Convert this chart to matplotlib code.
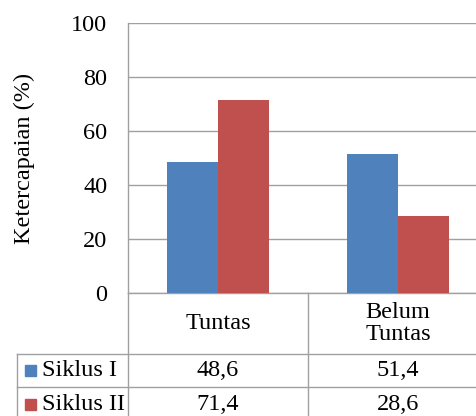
import matplotlib
matplotlib.use("Agg")
import matplotlib.pyplot as plt
from matplotlib.transforms import blended_transform_factory
from matplotlib.patches import Rectangle
import numpy as np

categories = ["Tuntas", "Belum\nTuntas"]
series_names = ["Siklus I", "Siklus II"]
siklus_1 = [48.6, 51.4]
siklus_2 = [71.4, 28.6]
value_labels = [["48,6", "51,4"], ["71,4", "28,6"]]
y_ticks = [0, 20, 40, 60, 80, 100]
colors = ["#4F81BD", "#C0504D"]
grid_color = "#A0A0A0"

plt.rcParams["font.family"] = ["Liberation Serif", "DejaVu Serif"]
fs = 17.5

W, H = 477, 416
fig = plt.figure(figsize=(W / 100, H / 100), dpi=100)

# plot area in pixels: left 128, category width 180 (runs past the right edge)
left_px, bottom_px, top_px, cat_px = 128, 293, 23, 180
ax = fig.add_axes([left_px / W, (H - bottom_px) / H,
                   2 * cat_px / W, (bottom_px - top_px) / H])

x = np.arange(len(categories))
bw = 0.283
ax.bar(x - bw / 2, siklus_1, bw, color=colors[0], zorder=3)
ax.bar(x + bw / 2, siklus_2, bw, color=colors[1], zorder=3)

ax.set_xlim(-0.5, 1.5)
ax.set_ylim(0, 100)
ax.set_yticks(y_ticks)
ax.set_yticklabels([str(t) for t in y_ticks], fontsize=fs)
ax.tick_params(axis="y", length=0, pad=15)
ax.set_xticks([])
ax.yaxis.grid(True, color=grid_color, linewidth=1.0, zorder=0)
for s in ["top", "right", "bottom"]:
    ax.spines[s].set_visible(False)
ax.spines["left"].set_color(grid_color)
ax.spines["left"].set_linewidth(1.0)
ax.set_ylabel("Ketercapaian (%)", fontsize=fs)
ax.yaxis.set_label_coords((35 - left_px) / (2 * cat_px), 0.5)

# data table below the axis (y in pixels, converted to axes fraction)
def yf(py):
    return (bottom_px - py) / (bottom_px - top_px)

def xf(px):
    return (px - left_px) / (2 * cat_px)

ta = ax.transAxes
tb = blended_transform_factory(ax.transData, ax.transAxes)
lk = dict(color=grid_color, linewidth=1.0, clip_on=False, transform=ta)

row_top, row1, row2, row_end = 293, 354, 387, 422
ax.plot([xf(left_px), 1], [yf(row_top)] * 2, **lk)
ax.plot([xf(17), 1], [yf(row1)] * 2, **lk)
ax.plot([xf(17), 1], [yf(row2)] * 2, **lk)
ax.plot([0, 0], [yf(row_top), yf(row_end)], **lk)
ax.plot([0.5, 0.5], [yf(row_top), yf(row_end)], **lk)
ax.plot([xf(17), xf(17)], [yf(row1), yf(row_end)], **lk)

for i, c in enumerate(categories):
    ax.text(i, yf((row_top + row1) / 2), c, transform=tb, ha="center",
            va="center", fontsize=fs, linespacing=1.05, clip_on=False)

row_centers = [(row1 + row2) / 2, (row2 + row_end) / 2]
for r, name in enumerate(series_names):
    yc = row_centers[r]
    ax.add_patch(Rectangle((xf(25), yf(yc + 5.5)), 11 / (2 * cat_px),
                           11 / (bottom_px - top_px), transform=ta,
                           color=colors[r], clip_on=False))
    ax.text(xf(42), yf(yc), name, transform=ta, ha="left", va="center",
            fontsize=fs, clip_on=False)
    for i in range(len(categories)):
        ax.text(i, yf(yc), value_labels[r][i], transform=tb, ha="center",
                va="center", fontsize=fs, clip_on=False)

fig.savefig("out.png", dpi=100)
